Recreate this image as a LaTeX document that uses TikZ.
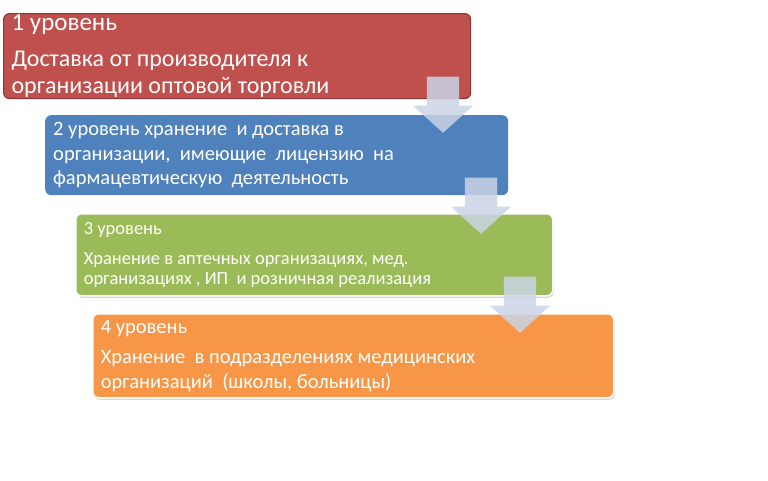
\documentclass[tikz,border=0pt]{standalone}
\usepackage{fontspec}
\setmainfont{Carlito}
\usepackage{xcolor}
\usetikzlibrary{shapes.arrows,shadows,positioning}

\definecolor{lvlred}{HTML}{C0504D}
\definecolor{lvlredline}{HTML}{8C3836}
\definecolor{lvlblue}{HTML}{4F81BD}
\definecolor{lvlgreen}{HTML}{9BBB59}
\definecolor{lvlorange}{HTML}{F79646}
\definecolor{arrowc}{RGB}{203,212,230}

\begin{document}
\begin{tikzpicture}[x=1pt,y=-1pt,
		level/.style={rectangle, rounded corners=6pt, anchor=north west, text=white, align=flush left, inner xsep=8pt, inner ysep=0pt},
		glow/.style={draw=white, line width=1.5pt, drop shadow={shadow xshift=1pt, shadow yshift=-2pt, opacity=0.3}},
		down/.style={single arrow, rotate=-90, anchor=tip, fill=arrowc, fill opacity=0.85, inner xsep=0pt, inner ysep=16pt, single arrow head extend=14pt, minimum height=56pt, single arrow tip angle=96}]
			\useasboundingbox (0,0) rectangle (768,480);

			\node[level, fill=lvlred, draw=lvlredline, line width=1.2pt, minimum width=467pt, minimum height=85pt, text width=451pt, font=\fontsize{24}{27}\selectfont] (lvl1) at (3,13)
				{{\fontsize{25}{27}\selectfont 1 уровень}\\[9pt]Доставка от производителя к\\организации оптовой торговли};
			\node[level, fill=lvlblue, minimum width=463pt, minimum height=80pt, text width=447pt, font=\fontsize{20.5}{24.5}\selectfont] (lvl2) at (45,115)
				{2 уровень хранение~ и доставка в\\организации,~ имеющие~ лицензию~ на\\фармацевтическую~ деятельность};
			\node[level, glow, fill=lvlgreen, minimum width=477pt, minimum height=82pt, text width=461pt, font=\fontsize{18.5}{20}\selectfont] (lvl3) at (75,213)
				{3 уровень\\[10pt]Хранение в аптечных организациях, мед.\\организациях , ИП~ и розничная реализация};
			\node[level, glow, fill=lvlorange, minimum width=521pt, minimum height=84pt, text width=505pt, font=\fontsize{20.5}{25}\selectfont] (lvl4) at (92,313)
				{4 уровень\\[5pt]Хранение~ в подразделениях медицинских\\организаций~ (школы, больницы)};

			\node[down] (arr12) at (443,133) {};
			\node[down] (arr23) at (481,234) {};
			\node[down] (arr34) at (520,333) {};
		\end{tikzpicture}
\end{document}
